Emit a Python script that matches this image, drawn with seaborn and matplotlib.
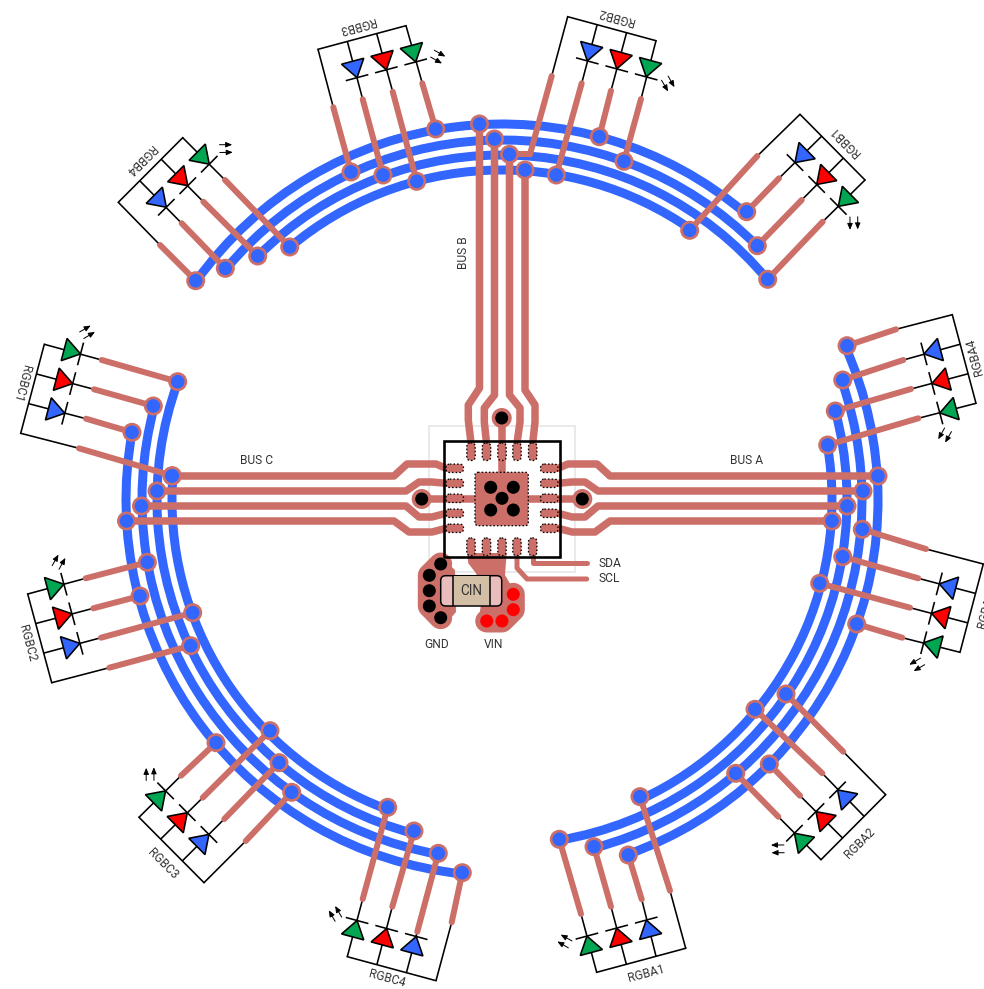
import math
import numpy as np
import matplotlib
matplotlib.use("Agg")
import matplotlib.pyplot as plt
from matplotlib.patches import FancyBboxPatch, Polygon, PathPatch, Rectangle
from matplotlib.path import Path
from matplotlib.transforms import Affine2D
import seaborn as sns

# ---------- picture-read geometry (reference pixels) ----------
RING_CENTER = (502, 500)
RING_RADII = [376, 360, 345, 330]

# ring ends, in order of increasing angle
RING_ENDS_A = [((847, 345.7), (628.3, 855)), ((842.7, 380), (594, 846.7)),
               ((835.3, 411), (559.3, 839.3)), ((827.7, 445), (640, 796.7))]
RING_ENDS_B = [((195.7, 280.7), (746.7, 211.7)), ((225.3, 268.3), (757.3, 245.7)),
               ((257.7, 256), (767.7, 279.3)), ((289.7, 247), (689.7, 230.3))]
RING_ENDS_C = [((462.3, 872.7), (132, 432.3)), ((438.3, 853.3), (153.3, 406)),
               ((414, 831), (177.7, 381.7)), ((387.7, 807.3), (172.3, 475.7))]

MODULE_NAMES = ["RGBA1", "RGBA2", "RGBA3", "RGBA4",
                "RGBB1", "RGBB2", "RGBB3", "RGBB4",
                "RGBC1", "RGBC2", "RGBC3", "RGBC4"]
RAIL_START = [(685.7, 948.3), (885.7, 794.7), (983.3, 564), (952.3, 314.7),
              (800, 114.3), (567.7, 16.7), (318, 49.3), (118.3, 202.3),
              (20.7, 433.3), (51.7, 682.7), (204, 882.7), (436, 980.7)]
RAIL_END = [(596.7, 972.3), (821, 859.7), (960, 652.3), (976, 403.3),
            (865, 180), (656, 40.7), (406, 25.7), (182.7, 137.7),
            (44.3, 344.3), (27.7, 594), (139, 817.3), (347.3, 956.7)]
TRACE_STARTS = [
    [(670, 890.7), (641.7, 899.3), (611, 906.7), (581, 914)],
    [(843.3, 751.7), (822.3, 773.3), (800, 795.7), (778.3, 816.7)],
    [(926, 549), (918.3, 578.3), (910, 607.7), (902.3, 637.7)],
    [(896, 329.3), (903.3, 360), (911, 389), (918.3, 418.3)],
    [(757.3, 156), (779, 178.3), (801.7, 200), (822.7, 221.7)],
    [(551.7, 76), (581.7, 83.3), (611, 90.7), (641, 99)],
    [(333.3, 107.3), (362.7, 99.3), (392.7, 91.7), (422.3, 83.3)],
    [(160, 245), (181.7, 223.3), (203.3, 201.7), (225, 180)],
    [(79, 448.3), (86, 418.7), (94, 389.3), (101.7, 360)],
    [(109.3, 667.7), (101, 637.7), (93.3, 608.3), (85.7, 578.3)],
    [(245.7, 841), (224.3, 819), (202.7, 797.7), (181, 775.7)],
    [(451.7, 922.3), (417.3, 931.7), (392.3, 906.7), (362.7, 899)],
]
TRACE_VIAS = [
    [(640, 796.7), (628.3, 855), (594, 846.7), (559.3, 839.3)],
    [(786, 694), (755, 709.3), (769.3, 764), (735.7, 773.3)],
    [(862.3, 529.3), (842.7, 556.7), (819.7, 583.3), (856.7, 624)],
    [(847, 345.7), (842.7, 380), (835.3, 411), (827.7, 445)],
    [(689.7, 230.3), (746.7, 211.7), (757.3, 245.7), (767.7, 279.3)],
    [(530, 154.3), (556.3, 175), (599.3, 136.7), (624, 161.3)],
    [(351, 172), (383, 175), (416.7, 181.3), (435.7, 129)],
    [(195.7, 280.7), (225.3, 268.3), (257.7, 256), (289.7, 247)],
    [(172.3, 475.7), (132, 432.3), (153.3, 406), (177.7, 381.7)],
    [(190.7, 645.7), (192.7, 612.7), (140, 596), (147.3, 562.3)],
    [(291.7, 792.3), (279, 762.7), (270, 730.7), (216, 742.7)],
    [(462.3, 872.7), (438.3, 853.3), (414, 831), (387.7, 807.3)],
]
LABEL_POS = [(646.7, 973.3), (860, 843.3), (986, 610), (975, 356.7),
             (845, 141.7), (616.7, 16.7), (356.7, 25), (140, 160),
             (21.7, 383), (27.3, 643), (162.3, 864), (386.7, 979)]
LED_COLORS = ["#3366FF", "#FF0000", "#00A651"]

# buses
BUS_ROWS = [476, 491, 506, 521]
PAD_ROWS = [468.3, 483.3, 498.3, 513.3, 528.3]
PAD_COLS = [471, 486.5, 502, 517, 532.7]
BUS_A_X = [878, 863, 847, 832]
BUS_C_X = [172, 157, 141.5, 126.5]
BUS_B_VIAS = [(479.5, 124), (494.5, 139), (509.5, 154.3), (525, 170)]
BUS_A_RUNS = [
    ([558, 568, 597, 610], [468.3, 464, 464, 476]),
    ([558, 572, 585, 598], [483.3, 482, 482, 491]),
    ([558, 572, 585, 598], [513.3, 517, 517, 506]),
    ([558, 572, 595, 610], [528.3, 532, 532, 521]),
]
BUS_C_RUNS = [
    ([446, 436, 407, 394], [468.3, 464, 464, 476]),
    ([446, 432, 419, 406], [483.3, 482, 482, 491]),
    ([446, 432, 419, 406], [513.3, 517, 517, 506]),
    ([446, 432, 409, 394], [528.3, 532, 532, 521]),
]
BUS_B_RUNS = [
    ([471, 468.3, 468.3, 479.5], [443, 420, 405, 388]),
    ([486.5, 484.3, 484.3, 494.5], [443, 422, 408, 395]),
    ([517, 520, 520, 509.5], [443, 422, 408, 395]),
    ([532.7, 535, 535, 525], [443, 422, 405, 390]),
]
JOG_X, JOG_Y = [530, 509.5], [154.3, 154.3]
SDA_X, SDA_Y = [532.7, 532.7, 586.7], [545, 563.3, 563.3]
SCL_X, SCL_Y = [517, 517, 527, 586.7], [545, 568, 579, 579]

# vias in the power and thermal areas
GND_X = [440.7, 429.3, 429.3, 429.3, 440.7]
GND_Y = [564, 575.3, 590.7, 606, 617.7]
VIN_X = [513.3, 513.3, 502, 486.7]
VIN_Y = [594.3, 609.7, 621, 621]
THERMAL_X = [490.7, 513.3, 502, 490.7, 513.3]
THERMAL_Y = [487.3, 487.3, 498.3, 510, 510]
SIDE_VIA_X = [421.7, 582.3, 501.7]
SIDE_VIA_Y = [499, 499, 418]

TEXTS = [("BUS A", 747, 460, 0), ("BUS C", 257, 460, 0), ("BUS B", 463.3, 253, 90),
         ("SDA", 609.5, 563.5, 0), ("SCL", 609.5, 579, 0),
         ("GND", 436.7, 644, 0), ("VIN", 494, 644, 0)]

COPPER = "#CC6F68"
BLUE = "#3366FF"
INK = "#333333"
PX = 0.72  # points per reference pixel at 100 dpi

sns.set_theme(style="white")
plt.rcParams["font.family"] = ["Roboto", "Liberation Sans", "DejaVu Sans"]

fig = plt.figure(figsize=(9.84, 9.89), dpi=100, facecolor="white")
ax = fig.add_axes([0, 0, 1, 1])


def line(xs, ys, color, width, z, cap="round"):
    sns.lineplot(x=list(xs), y=list(ys), ax=ax, color=color, lw=width * PX, sort=False,
                 estimator=None, errorbar=None, zorder=z, legend=False,
                 solid_capstyle=cap, solid_joinstyle="round")


def ring(ends, radii):
    cx, cy = RING_CENTER
    for (a, b), r in zip(ends, radii):
        t1 = math.degrees(math.atan2(a[1] - cy, a[0] - cx))
        t2 = math.degrees(math.atan2(b[1] - cy, b[0] - cx))
        tr = Affine2D().scale(r).translate(cx, cy) + ax.transData
        ax.add_patch(PathPatch(Path.arc(t1, t2), transform=tr, fill=False, edgecolor=BLUE,
                               lw=9 * PX, zorder=2, capstyle="butt"))


def vias(xs, ys, face, ring_color, inner, outer, z=6):
    sns.scatterplot(x=list(xs), y=list(ys), ax=ax, s=((outer * 2) * PX) ** 2, color=ring_color,
                    edgecolor="none", linewidth=0, zorder=z, legend=False)
    sns.scatterplot(x=list(xs), y=list(ys), ax=ax, s=((inner * 2) * PX) ** 2, color=face,
                    edgecolor="none", linewidth=0, zorder=z + 0.1, legend=False)


def pad(x, y, w, h):
    ax.add_patch(FancyBboxPatch((x, y), w, h, boxstyle="round,pad=0,rounding_size=3.8",
                                facecolor=COPPER, edgecolor="black", lw=1.3 * PX,
                                linestyle=(0, (1.2, 1.6)), zorder=8))


for ends in (RING_ENDS_A, RING_ENDS_B, RING_ENDS_C):
    ring(ends, RING_RADII)

# faint package outline
ax.add_patch(Rectangle((429, 425.7), 146, 146, fill=False, edgecolor="#E6E6E6", lw=1.6 * PX, zorder=1))

# LED modules
for name, c0, c3, starts, ends_, lab in zip(MODULE_NAMES, RAIL_START, RAIL_END, TRACE_STARTS, TRACE_VIAS, LABEL_POS):
    c0a, c3a = np.array(c0), np.array(c3)
    span = c3a - c0a
    d = span / np.linalg.norm(span)
    n = np.array([-d[1], d[0]])
    line([c0[0], c3[0]], [c0[1], c3[1]], "black", 1.6, 3, "projecting")
    for k, (s, v) in enumerate(zip(starts, ends_)):
        rp = c0a + span * k / 3
        line([rp[0], s[0]], [rp[1], s[1]], "black", 1.6, 3, "butt")
        line([s[0], v[0]], [s[1], v[1]], COPPER, 6, 5)
        if k == 0:
            continue
        back, tip = rp + 20.5 * n, rp + 37.5 * n
        ax.add_patch(Polygon([back - 11.5 * d, back + 11.5 * d, tip], closed=True, facecolor=LED_COLORS[k - 1],
                             edgecolor="black", lw=1.6 * PX, zorder=4, joinstyle="miter"))
        b1, b2 = tip - 11.7 * d, tip + 11.7 * d
        line([b1[0], b2[0]], [b1[1], b2[1]], "black", 1.6, 4, "butt")
    for (u0, v0, u1, v1) in [(15.7, 36.7, 25, 45.8), (21, 31, 30, 40)]:
        p0 = c3a + u0 * d + v0 * n
        p1 = c3a + u1 * d + v1 * n
        ax.annotate("", xy=p1, xytext=p0, zorder=4,
                    arrowprops=dict(arrowstyle="-|>,head_width=0.16,head_length=0.38", color="black",
                                    lw=1.0 * PX, shrinkA=0, shrinkB=0, mutation_scale=10))
    ang = math.degrees(math.atan2(d[1], -d[0]))
    ax.text(lab[0], lab[1], name, rotation=ang, rotation_mode="anchor", ha="center", va="center",
            fontsize=12 * PX, color=INK, zorder=9)

# buses A, C and B
for run, row, end in zip(BUS_A_RUNS, BUS_ROWS, BUS_A_X):
    line(run[0] + [end], run[1] + [row], COPPER, 7.5, 5)
for run, row, end in zip(BUS_C_RUNS, BUS_ROWS, BUS_C_X):
    line(run[0] + [end], run[1] + [row], COPPER, 7.5, 5)
for run, v in zip(BUS_B_RUNS, BUS_B_VIAS):
    line(run[0] + [v[0]], run[1] + [v[1]], COPPER, 7.5, 5)
line(JOG_X, JOG_Y, COPPER, 6, 5)
line(SDA_X, SDA_Y, COPPER, 5, 5)
line(SCL_X, SCL_Y, COPPER, 5, 5)

# straight stubs from the middle pads to the side vias and thermal pad
line([421.7, 475], [499, 499], COPPER, 7.5, 5)
line([582.3, 529], [499, 499], COPPER, 7.5, 5)
line([501.7, 501.7], [418, 473], COPPER, 7.5, 5)

# copper pours
ax.add_patch(Polygon([(467.3, 553), (468.3, 563.3), (476, 573.3), (480.7, 585), (480.7, 606.7),
                      (478.3, 621.7), (511.7, 610), (511.7, 586.7), (505, 575), (506.7, 553)],
                     closed=True, facecolor=COPPER, edgecolor="none", zorder=3))
line(VIN_X, VIN_Y, COPPER, 23, 3)
ax.add_patch(Polygon([(440, 556), (455, 570), (456, 612), (445, 625), (432, 600)],
                     closed=True, facecolor=COPPER, edgecolor="none", zorder=3))
line(GND_X, GND_Y, COPPER, 23, 3)

# thermal pad
ax.add_patch(FancyBboxPatch((475, 472.3), 53.3, 53.4, boxstyle="round,pad=0,rounding_size=3",
                            facecolor=COPPER, edgecolor="black", lw=1.3 * PX,
                            linestyle=(0, (1.2, 1.6)), zorder=7))

# IC body
ax.add_patch(Rectangle((444, 441), 116, 116, fill=False, edgecolor="black", lw=2.6 * PX, zorder=7.5))
for y in PAD_ROWS:
    pad(446, y - 4.2, 17.5, 8.4)
    pad(540.5, y - 4.2, 17.5, 8.4)
for x in PAD_COLS:
    pad(x - 4.2, 443, 8.4, 17.5)
    pad(x - 4.2, 538, 8.4, 17.5)

# input capacitor
ax.add_patch(FancyBboxPatch((440.7, 575.7), 61, 30.3, boxstyle="round,pad=0,rounding_size=5",
                            facecolor="#E9BDBB", edgecolor="black", lw=1.5 * PX, zorder=8))
ax.add_patch(Rectangle((452.7, 576.4), 37.3, 29, facecolor="#D3BFA6", edgecolor="none", zorder=8.1))
line([452.7, 452.7], [575.7, 606], "black", 1.5, 8.2, "butt")
line([490, 490], [575.7, 606], "black", 1.5, 8.2, "butt")
ax.text(471.3, 590.8, "CIN", ha="center", va="center", fontsize=13.5 * PX, color=INK, zorder=9)

for t, x, y, r in TEXTS:
    ax.text(x, y, t, rotation=r, rotation_mode="anchor", ha="center", va="center",
            fontsize=12 * PX, color=INK, zorder=9)

# vias
vx = [v[0] for group in TRACE_VIAS for v in group if v != (530, 154.3)]
vy = [v[1] for group in TRACE_VIAS for v in group if v != (530, 154.3)]
vx += BUS_A_X + BUS_C_X + [v[0] for v in BUS_B_VIAS]
vy += BUS_ROWS + BUS_ROWS + [v[1] for v in BUS_B_VIAS]
vias(vx, vy, BLUE, COPPER, 6.8, 9.5)
vias(GND_X, GND_Y, "black", COPPER, 6.5, 6.7, 8.5)
vias(VIN_X, VIN_Y, "#FF0000", COPPER, 6.5, 6.7, 8.5)
vias(THERMAL_X, THERMAL_Y, "black", COPPER, 6.5, 6.7, 8.5)
vias(SIDE_VIA_X, SIDE_VIA_Y, "black", COPPER, 6.5, 10, 6)

ax.set_xlim(0, 984)
ax.set_ylim(989, 0)
ax.axis("off")
fig.savefig("out.png", dpi=100, facecolor="white")
